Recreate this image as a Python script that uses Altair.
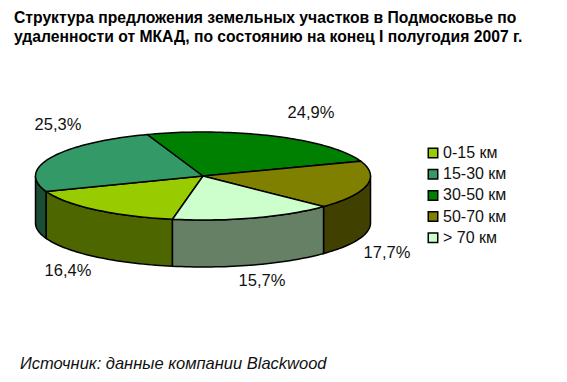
import math
import altair as alt
import pandas as pd

labels = ["0-15 км", "15-30 км", "30-50 км", "50-70 км", "> 70 км"]
values = [16.4, 25.3, 24.9, 17.7, 15.7]
top_colors = ["#99CC00", "#339966", "#008000", "#808000", "#CCFFCC"]
wall_colors = ["#4D6600", "#1A4D33", "#004000", "#404000", "#668066"]
value_texts = ["16,4%", "25,3%", "24,9%", "17,7%", "15,7%"]
title_lines = [
    "Структура предложения земельных участков в Подмосковье по",
    "удаленности от МКАД, по состоянию на конец I полугодия 2007 г.",
]
source_text = "Источник: данные компании Blackwood"

# pie projection (picture pixels)
CX, CY, A, B, DEPTH = 203.0, 176.0, 167.5, 44.0, 47.0
START = 190.5


def pt(deg, dy=0.0):
    r = math.radians(deg)
    return CX + A * math.sin(r), CY - B * math.cos(r) + dy


def arc(a0, a1):
    n = max(2, int(abs(a1 - a0) / 1.5) + 2)
    return [a0 + (a1 - a0) * i / (n - 1) for i in range(n)]


tops, walls = [], []
ang = START
for label, value, wc in zip(labels, values, wall_colors):
    a1 = ang + value * 3.6
    pts = [(CX, CY)] + [pt(a) for a in arc(ang, a1)]
    for i, (x, y) in enumerate(pts):
        tops.append(dict(label=label, i=i, x=x, y=y))
    # visible front wall: angles 90..270 (mod 360)
    for shift in (0, -360):
        lo, hi = max(ang + shift, 90), min(a1 + shift, 270)
        if hi > lo:
            ring = [pt(a) for a in arc(lo, hi)] + [pt(a, DEPTH) for a in arc(hi, lo)]
            for i, (x, y) in enumerate(ring):
                walls.append(dict(label=label, i=i, x=x, y=y, col=wc))
    ang = a1

X = alt.Scale(domain=[8, 559], range=[0, 551], nice=False, zero=False)
Y = alt.Scale(domain=[8, 374], range=[0, 366], nice=False, zero=False)
xe = alt.X("x:Q", scale=X, axis=None)
ye = alt.Y("y:Q", scale=Y, axis=None)

wall_layers = []
wdf = pd.DataFrame(walls)
for label, g in wdf.groupby("label", sort=False):
    wall_layers.append(
        alt.Chart(g).mark_line(interpolate="linear-closed", stroke="black", strokeWidth=1.5, fill=g["col"].iloc[0])
        .encode(x=xe, y=ye, order="i:Q")
    )

top_layers = []
tdf = pd.DataFrame(tops)
for label, col in zip(labels, top_colors):
    g = tdf[tdf.label == label]
    top_layers.append(
        alt.Chart(g).mark_line(interpolate="linear-closed", stroke="black", strokeWidth=1.5, fill=col)
        .encode(x=xe, y=ye, order="i:Q")
    )

label_pos_x = [68, 58, 311, 387, 262]
label_pos_y = [271, 125, 113, 253, 281]
vt = alt.Chart(pd.DataFrame(dict(t=value_texts, x=label_pos_x, y=label_pos_y))).mark_text(
    font="Liberation Sans", fontSize=16.5, color="#111111", align="center", baseline="middle"
).encode(x=xe, y=ye, text="t:N")

leg_df = pd.DataFrame(dict(label=labels, i=range(5), x=[433] * 5, tx=[443] * 5, y=[153 + 21.2 * k for k in range(5)]))
leg_sq = alt.Chart(leg_df).mark_square(size=90, stroke="black", strokeWidth=1.5, opacity=1).encode(
    x=xe, y=ye,
    fill=alt.Fill("label:N", scale=alt.Scale(domain=labels, range=top_colors), legend=None),
)
leg_tx = alt.Chart(leg_df).mark_text(
    font="Liberation Sans", fontSize=16, color="#111111", align="left", baseline="middle"
).encode(x=alt.X("tx:Q", scale=X, axis=None), y=ye, text="label:N")

title_tx = alt.Chart(pd.DataFrame(dict(t=title_lines, x=[14, 14], y=[18, 37]))).mark_text(
    font="Liberation Sans", fontSize=15.7, fontWeight="bold", color="black", align="left", baseline="middle"
).encode(x=xe, y=ye, text="t:N")

src_tx = alt.Chart(pd.DataFrame(dict(t=[source_text], x=[20], y=[364]))).mark_text(
    font="Liberation Sans", fontSize=16.5, fontStyle="italic", color="#111111", align="left", baseline="middle"
).encode(x=xe, y=ye, text="t:N")

chart = alt.layer(*wall_layers, *top_layers, vt, leg_sq, leg_tx, title_tx, src_tx).properties(
    width=551, height=366, padding=0, background="white"
).configure_view(stroke=None)

chart.save("out.html", embed_options={"renderer": "svg", "actions": False})
